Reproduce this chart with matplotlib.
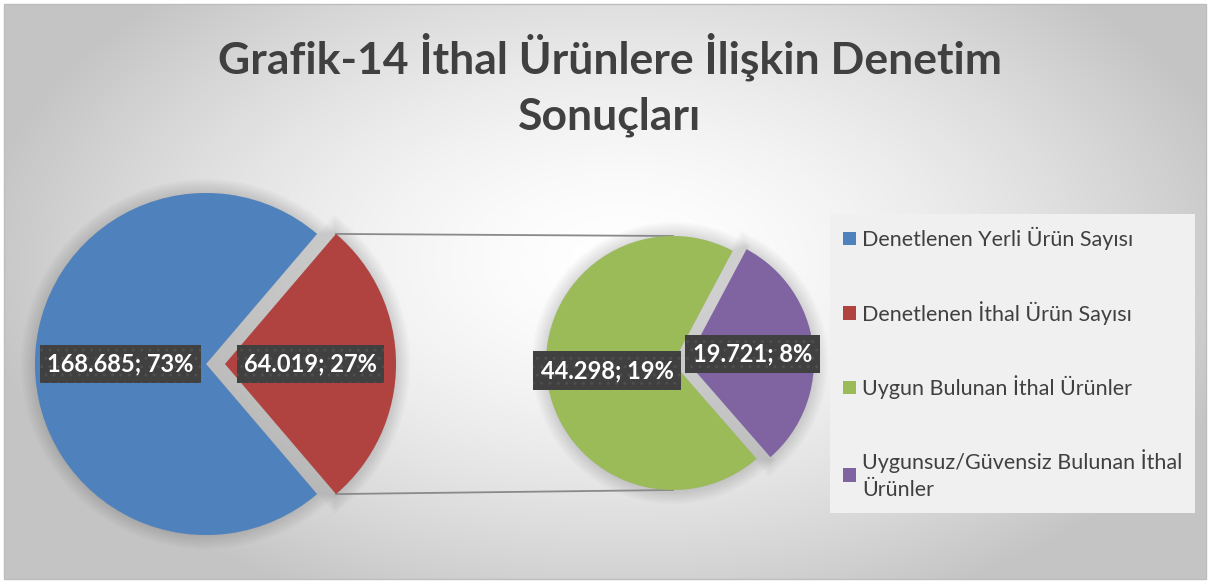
import numpy as np
import matplotlib.pyplot as plt
import matplotlib.patheffects as pe
from matplotlib.patches import Rectangle, Wedge

# veriler
ana_etiketler = ['Denetlenen Yerli Ürün Sayısı', 'Denetlenen İthal Ürün Sayısı']
ana_degerler = [168685, 64019]
alt_etiketler = ['Uygun Bulunan İthal Ürünler', 'Uygunsuz/Güvensiz Bulunan İthal\nÜrünler']
alt_degerler = [44298, 19721]
ana_yazilar = ['168.685; 73%', '64.019; 27%']
alt_yazilar = ['44.298; 19%', '19.721; 8%']

renk_ana = ['#4f81bd', '#b0433f']
renk_alt = ['#9bbb59', '#8064a2']

W, H = 1209, 581
plt.rcParams['font.family'] = ['Lato', 'DejaVu Sans']

fig = plt.figure(figsize=(W / 100, H / 100), dpi=100)
ax = fig.add_axes([0, 0, 1, 1])

# arka plan (radyal gecis)
gx, gy = np.meshgrid(np.arange(W), np.arange(H))
d = np.sqrt(((gx - 620) / 650.0) ** 2 + ((gy - 260) / 380.0) ** 2)
gri = 1 - 0.23 * np.clip(d, 0, 1) ** 1.6
ax.imshow(np.dstack([gri, gri, gri]), extent=(4, 1206, 2, 577), origin='upper', zorder=0)
ax.add_patch(Rectangle((4, 2), 1202, 575, fill=False, edgecolor='#bdbdbd', lw=1, zorder=1))

# sol pasta (kirmizi dilim saga bakiyor)
c1 = (206, H - 364)
r1 = 171
pay_kirmizi = ana_degerler[1] / sum(ana_degerler)
dilimler1, _, yazi1 = ax.pie(ana_degerler, colors=renk_ana, center=c1, radius=r1,
                             startangle=180 * pay_kirmizi, explode=[0, 19],
                             autopct='%1.0f%%', pctdistance=0.5,
                             wedgeprops=dict(linewidth=0, zorder=2), frame=True)

# sag pasta
c2 = (673, H - 363)
r2 = 127
dilimler2, _, yazi2 = ax.pie(alt_degerler, colors=renk_alt, center=c2, radius=r2,
                             startangle=62, explode=[0, 14], autopct='%1.0f%%',
                             pctdistance=0.52, wedgeprops=dict(linewidth=0, zorder=2),
                             frame=True)

# dilimlerin yumusak golgesi
golge = [pe.Stroke(linewidth=lw, foreground='black', alpha=0.018)
         for lw in (20, 17, 14, 11, 8, 5, 2)]
for w in dilimler1 + dilimler2:
    g = Wedge(w.center, w.r, w.theta1, w.theta2, linewidth=0.1, zorder=1.5)
    g.set_path_effects(golge)
    ax.add_patch(g)

for t, s in zip(list(yazi1) + list(yazi2), ana_yazilar + alt_yazilar):
    t.set_text(s)
    t.set_color('white')
    t.set_fontsize(17)
    t.set_fontweight('bold')
    t.set_bbox(dict(boxstyle='square,pad=0.32', facecolor='#404040', edgecolor='#4e4e4e',
                    hatch='..', linewidth=0))
    t.set_zorder(5)

# baglanti cizgileri
kirmizi = dilimler1[1]
th = np.deg2rad(kirmizi.theta2)
kx, ky = kirmizi.center
ust1 = (kx + r1 * np.cos(th), ky + r1 * np.sin(th))
alt1 = (kx + r1 * np.cos(th), ky - r1 * np.sin(th))
ax.plot([ust1[0], c2[0]], [ust1[1], c2[1] + r2], color='#8a8a8a', lw=1.3, zorder=1.8)
ax.plot([alt1[0], c2[0]], [alt1[1], c2[1] - r2], color='#8a8a8a', lw=1.3, zorder=1.8)

ax.set_xlim(0, W)
ax.set_ylim(0, H)
ax.set_aspect('equal')
ax.axis('off')

ax.text(610, H - 57, 'Grafik-14 İthal Ürünlere İlişkin Denetim', ha='center', va='center',
        fontsize=32, fontweight='bold', color='#404040')
ax.text(610, H - 117, 'Sonuçları', ha='center', va='center',
        fontsize=32, fontweight='bold', color='#404040')

leg = ax.legend(dilimler1 + dilimler2, ana_etiketler + alt_etiketler, loc='upper left',
                bbox_to_anchor=(830 / W, 1 - 214 / H), fontsize=15.5, labelcolor='#404040',
                labelspacing=2.35, handlelength=0.6, handleheight=0.6, handletextpad=0.3,
                borderpad=0.6, borderaxespad=0, fancybox=False, framealpha=1,
                facecolor='#f0f0f0', edgecolor='none')
for t in leg.get_texts():
    t.set_linespacing(1.4)

fig.savefig('out.png', dpi=100)
